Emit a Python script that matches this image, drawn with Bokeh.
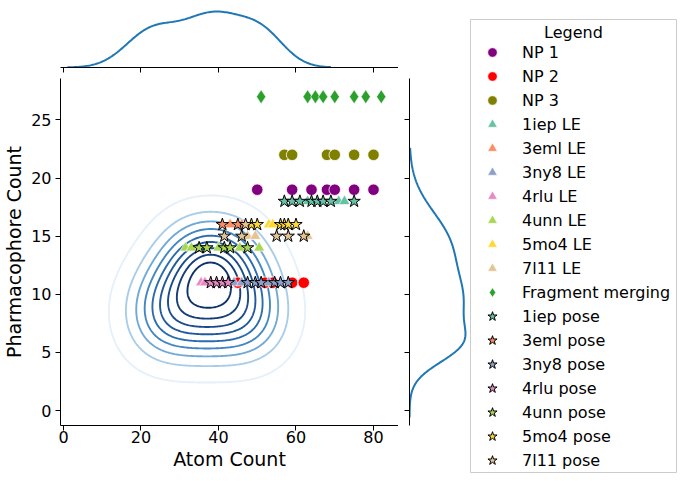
import numpy as np
from bokeh.plotting import figure
from bokeh.layouts import row, column
from bokeh.models import (Legend, LegendItem, Spacer, Range1d, FixedTicker,
                          BoxAnnotation, Label)
from bokeh.embed import file_html
from bokeh.resources import INLINE

FONT = "DejaVu Sans"

# ---------------- scatter data ----------------
np1_x = [50, 59, 64, 68, 70, 75, 80]
np1_y = [19, 19, 19, 19, 19, 19, 19]
np2_x = [45, 52, 54, 59, 62]
np2_y = [11, 11, 11, 11, 11]
np3_x = [57, 59, 68, 70, 75, 80]
np3_y = [22, 22, 22, 22, 22, 22]

le_1iep_x = [63, 71, 72.5]
le_1iep_y = [18, 18, 18]
le_3eml_x = [43, 46]
le_3eml_y = [16, 16]
le_3ny8_x = [44, 46, 53]
le_3ny8_y = [11, 11, 11]
le_4rlu_x = [35.5, 36.5]
le_4rlu_y = [11, 11]
le_4unn_x = [31.5, 33, 40, 45.5, 50.5]
le_4unn_y = [14, 14, 14, 14, 14]
le_5mo4_x = [53, 54]
le_5mo4_y = [16, 16]
le_7l11_x = [47.5, 49.5, 63]
le_7l11_y = [15, 15, 15]

frag_x = [51, 63, 65, 67, 70, 75, 78, 82]
frag_y = [27, 27, 27, 27, 27, 27, 27, 27]

pose_1iep_x = [57, 59, 61, 64, 65.5, 67, 69, 75]
pose_1iep_y = [18, 18, 18, 18, 18, 18, 18, 18]
pose_3eml_x = [41, 45]
pose_3eml_y = [16, 16]
pose_3ny8_x = [47.5, 49.5, 51, 54.5, 56, 58]
pose_3ny8_y = [11, 11, 11, 11, 11, 11]
pose_4rlu_x = [38, 39.5, 41, 42.5]
pose_4rlu_y = [11, 11, 11, 11]
pose_4unn_x = [35, 37, 41.5, 43, 47.5]
pose_4unn_y = [14, 14, 14, 14, 14]
pose_5mo4_x = [48.5, 50, 56, 57, 58, 60]
pose_5mo4_y = [16, 16, 16, 16, 16, 16]
pose_7l11_x = [41.5, 46, 47, 55, 58, 62]
pose_7l11_y = [15, 15, 16, 15, 15, 15]

targets = ["1iep", "3eml", "3ny8", "4rlu", "4unn", "5mo4", "7l11"]
target_colors = ["#66c2a5", "#fc8d62", "#8da0cb", "#e78ac3", "#a6d854", "#ffd92f", "#e5c494"]

# ---------------- background density estimate ----------------
kde_mx = [23.0, 27.6, 32.4, 37.0, 41.6, 46.4, 51.0,
          20.8, 26.2, 31.6, 37.0, 42.4, 47.8, 53.2,
          23.0, 27.6, 32.4, 37.0, 41.6, 46.4, 51.0,
          27.3, 31.6, 35.9, 40.2, 44.6, 48.9,
          31.6, 35.9, 40.2, 44.6]
kde_my = [6.3] * 7 + [8.4] * 7 + [10.5] * 7 + [12.6] * 6 + [14.7] * 4
kde_sx = 6.4
kde_sy = 2.2
kde_x_span = [1.0, 69.0]
kde_y_span = [-0.6, 22.6]
kde_props = list(np.linspace(0.05, 1.0, 10)[:-1])
contour_colors = ["#e6f0fa", "#a9cde8", "#6fa9d6", "#4286c2", "#2b6cb0",
                  "#215a9c", "#1a4b8a", "#133e79", "#0d3269"]

# marginal densities
mx_mu = [22, 39, 52]
mx_sd = [6.5, 9.0, 5.5]
mx_w = [0.25, 0.60, 0.15]
my_mu = [5.5, 9.0, 14.3]
my_sd = [1.6, 2.5, 2.9]
my_w = [0.20, 0.40, 0.40]

x_ticks = [0, 20, 40, 60, 80]
y_ticks = [0, 5, 10, 15, 20, 25]

xg = np.linspace(kde_x_span[0], kde_x_span[1], 200)
yg = np.linspace(kde_y_span[0], kde_y_span[1], 200)
XX, YY = np.meshgrid(xg, yg)
Z = np.zeros_like(XX)
for mx, my in zip(kde_mx, kde_my):
    Z += np.exp(-0.5 * ((XX - mx) / kde_sx) ** 2 - 0.5 * ((YY - my) / kde_sy) ** 2)

fx = np.zeros_like(xg)
for m, s, w in zip(mx_mu, mx_sd, mx_w):
    fx += w * np.exp(-0.5 * ((xg - m) / s) ** 2) / s
fy = np.zeros_like(yg)
for m, s, w in zip(my_mu, my_sd, my_w):
    fy += w * np.exp(-0.5 * ((yg - m) / s) ** 2) / s

vals = np.sort(Z.ravel())[::-1]
cum = np.cumsum(vals) / vals.sum()
idx = np.searchsorted(cum, 1 - np.asarray(kde_props))
levels = np.take(vals, idx, mode="clip")

# ---------------- layout geometry (page has no margin) ----------------
LEFT = 60
FRAME_W = 338
FRAME_H = 347
TOP_PAD = 8
TOP_H = 59
GAP_V = 11
GAP_H = 11
RIGHT_W = 59
BOTTOM = 56
TOTAL_W = 685
TOTAL_H = TOP_PAD + TOP_H + GAP_V + FRAME_H + BOTTOM  # 481


def style_axis(ax, labels=True):
    ax.axis_line_color = "black"
    ax.axis_line_width = 1
    ax.major_tick_line_color = "black"
    ax.major_tick_line_width = 1
    ax.major_tick_out = 5
    ax.major_tick_in = 0
    ax.minor_tick_line_color = None
    ax.major_label_text_font = FONT
    if labels:
        ax.major_label_text_color = "black"
        ax.major_label_text_font_size = "16px"
    else:
        ax.major_label_text_color = None
        ax.major_label_text_font_size = "1px"
        ax.major_label_standoff = 0
    ax.axis_label_text_font = FONT
    ax.axis_label_text_font_size = "19px"
    ax.axis_label_text_font_style = "normal"
    ax.axis_label_text_color = "black"


main = figure(width=LEFT + FRAME_W, height=FRAME_H + BOTTOM,
              x_range=Range1d(-0.77, 86.45), y_range=Range1d(-1.29, 28.57),
              output_backend="svg", toolbar_location=None,
              min_border_left=LEFT, min_border_right=0, min_border_top=0,
              min_border_bottom=BOTTOM,
              x_axis_label="Atom Count", y_axis_label="Pharmacophore Count")
main.outline_line_color = None
main.grid.visible = False
main.xaxis.ticker = FixedTicker(ticks=x_ticks)
main.yaxis.ticker = FixedTicker(ticks=y_ticks)
style_axis(main.xaxis[0])
style_axis(main.yaxis[0])
main.xaxis.major_label_standoff = 0
main.yaxis.major_label_standoff = 4
main.xaxis.axis_label_standoff = 2
main.yaxis.axis_label_standoff = 3

main.contour(xg, yg, Z, levels=levels, line_color=contour_colors,
             line_width=1.9, fill_color=None)

circle_kw = dict(marker="circle", size=11.5, line_color="white", line_width=0.8)
tri_kw = dict(marker="triangle", size=11, line_color="white", line_width=0.6)
dia_kw = dict(marker="diamond", size=14, line_color="white", line_width=0.6)
star_kw = dict(marker="star", size=13, line_color="black", line_width=1)

series = [
    ("NP 1", np1_x, np1_y, "purple", circle_kw),
    ("NP 2", np2_x, np2_y, "red", circle_kw),
    ("NP 3", np3_x, np3_y, "olive", circle_kw),
]
le_x = [le_1iep_x, le_3eml_x, le_3ny8_x, le_4rlu_x, le_4unn_x, le_5mo4_x, le_7l11_x]
le_y = [le_1iep_y, le_3eml_y, le_3ny8_y, le_4rlu_y, le_4unn_y, le_5mo4_y, le_7l11_y]
pose_x = [pose_1iep_x, pose_3eml_x, pose_3ny8_x, pose_4rlu_x, pose_4unn_x, pose_5mo4_x, pose_7l11_x]
pose_y = [pose_1iep_y, pose_3eml_y, pose_3ny8_y, pose_4rlu_y, pose_4unn_y, pose_5mo4_y, pose_7l11_y]
for t, c, xs, ys in zip(targets, target_colors, le_x, le_y):
    series.append((f"{t} LE", xs, ys, c, tri_kw))
series.append(("Fragment merging", frag_x, frag_y, "#2ca02c", dia_kw))
for t, c, xs, ys in zip(targets, target_colors, pose_x, pose_y):
    series.append((f"{t} pose", xs, ys, c, star_kw))

for label, xs, ys, col, kw in series:
    main.scatter(xs, ys, fill_color=col, **kw)

# top marginal
top = figure(width=LEFT + FRAME_W, height=TOP_PAD + TOP_H + GAP_V,
             x_range=main.x_range, y_range=Range1d(0, fx.max() * 1.054),
             y_axis_location=None, output_backend="svg", toolbar_location=None,
             min_border_left=LEFT, min_border_right=0, min_border_top=TOP_PAD,
             min_border_bottom=GAP_V)
top.outline_line_color = None
top.grid.visible = False
top.xaxis.ticker = FixedTicker(ticks=x_ticks)
style_axis(top.xaxis[0], labels=False)
top.line(xg, fx, line_color="#1f77b4", line_width=2)

# right marginal
right = figure(width=GAP_H + RIGHT_W, height=FRAME_H + BOTTOM,
               y_range=main.y_range, x_range=Range1d(0, fy.max() * 1.054),
               x_axis_location=None, output_backend="svg", toolbar_location=None,
               min_border_left=GAP_H, min_border_right=0, min_border_top=0,
               min_border_bottom=BOTTOM)
right.outline_line_color = None
right.grid.visible = False
right.yaxis.ticker = FixedTicker(ticks=y_ticks)
style_axis(right.yaxis[0], labels=False)
right.line(fy, yg, line_color="#1f77b4", line_width=2)

# legend panel
LEG_W = TOTAL_W - (LEFT + FRAME_W) - (GAP_H + RIGHT_W)  # 217
lf = figure(width=LEG_W, height=TOTAL_H,
            x_range=Range1d(-10, -9), y_range=Range1d(-10, -9),
            x_axis_location=None, y_axis_location=None,
            output_backend="svg", toolbar_location=None,
            min_border_left=0, min_border_right=0, min_border_top=0,
            min_border_bottom=0)
lf.outline_line_color = None
lf.grid.visible = False

lf.add_layout(BoxAnnotation(left=2, right=208, bottom=TOTAL_H - 472, top=TOTAL_H - 19,
                            left_units="screen", right_units="screen",
                            top_units="screen", bottom_units="screen",
                            fill_color=None, line_color="#cccccc",
                            line_alpha=1, line_width=1))
lf.add_layout(Label(x=105, y=TOTAL_H - 32, x_units="screen", y_units="screen",
                    text="Legend", text_font=FONT, text_font_size="16px",
                    text_align="center", text_baseline="middle",
                    text_color="black"))

items = []
for label, xs, ys, col, kw in series:
    r = lf.scatter(xs[:1], ys[:1], fill_color=col, **kw)
    items.append(LegendItem(label=label, renderers=[r]))

GLYPH_H = 24
LEG_H = 18 * GLYPH_H
legend = Legend(items=items, location=(7, TOTAL_H - 40 - LEG_H))
legend.margin = 0
legend.padding = 0
legend.spacing = 0
legend.glyph_width = 34
legend.glyph_height = GLYPH_H
legend.label_height = 20
legend.label_standoff = 13
legend.label_text_font = FONT
legend.label_text_font_size = "16px"
legend.label_text_color = "black"
legend.border_line_color = None
legend.background_fill_alpha = 0
lf.add_layout(legend)

col1 = column(top, main)
col2 = column(Spacer(width=GAP_H + RIGHT_W, height=TOP_PAD + TOP_H + GAP_V), right)
layout = row(col1, col2, lf)

open("out.html", "w").write(file_html(layout, INLINE))
